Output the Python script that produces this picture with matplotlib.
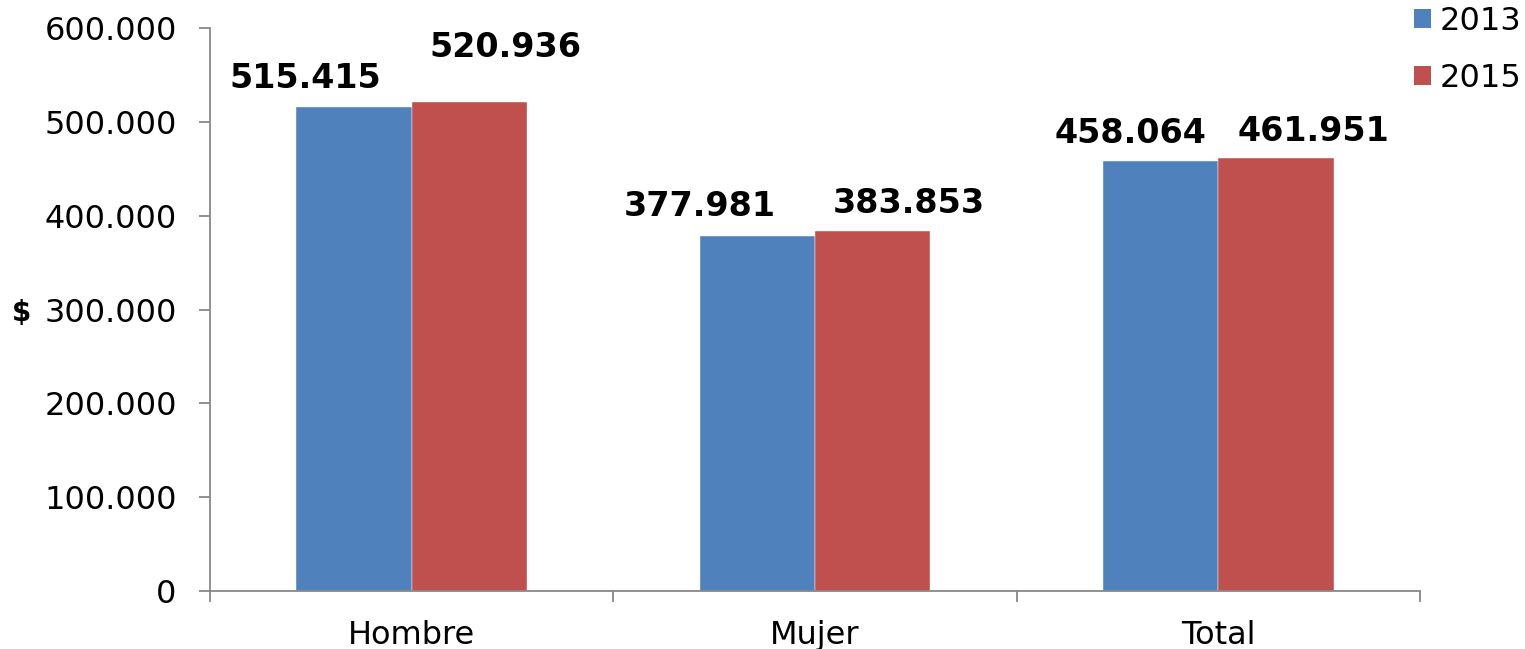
import matplotlib.pyplot as plt
import matplotlib
from matplotlib.patches import Patch
from matplotlib.ticker import FuncFormatter, FixedLocator
import numpy as np

matplotlib.rcParams["font.family"] = ["DejaVu Sans"]

categories = ["Hombre", "Mujer", "Total"]
years = ["2013", "2015"]
values_2013 = [515415, 377981, 458064]
values_2015 = [520936, 383853, 461951]

COLORS = {"2013": "#4F81BD", "2015": "#C0504D"}
# label offsets in pixels (dx, dy) relative to bar top centre
OFFSETS = {
    "2013": [(-49, 29), (-58, 30), (-30, 28)],
    "2015": [(36, 55), (36, 27), (37, 26)],
}


def fmt_thousands(v, pos=None):
    return f"{int(round(v)):,}".replace(",", ".")


def main():
    fig = plt.figure(figsize=(15.25, 6.49), dpi=100)
    ax = fig.add_axes([210 / 1525, 58 / 649, 1210 / 1525, 563 / 649])

    x = np.arange(len(categories))
    width = 0.286
    series = {"2013": values_2013, "2015": values_2015}
    for i, year in enumerate(years):
        pos = x + (i - 0.5) * width
        bars = ax.bar(pos, series[year], width=width, color=COLORS[year],
                      edgecolor="white", linewidth=0.3)
        for b, v, (dx, dy) in zip(bars, series[year], OFFSETS[year]):
            ax.annotate(fmt_thousands(v), (b.get_x() + b.get_width() / 2, v),
                        xytext=(dx, dy), textcoords="offset pixels",
                        ha="center", va="center", fontsize=24, fontweight="bold")

    ax.set_xlim(-0.5, len(categories) - 0.5)
    ax.set_ylim(0, 600000)
    ax.set_yticks(np.arange(0, 600001, 100000))
    ax.yaxis.set_major_formatter(FuncFormatter(fmt_thousands))

    ax.set_xticks(x)
    ax.set_xticklabels(categories)
    ax.xaxis.set_minor_locator(FixedLocator(np.arange(-0.5, len(categories), 1.0)))
    ax.tick_params(axis="x", which="major", length=0, pad=21, labelsize=23)
    ax.tick_params(axis="x", which="minor", length=8, width=1.3, color="#888888")
    ax.tick_params(axis="y", length=8, width=1.3, color="#888888", pad=16, labelsize=23)

    for s in ["top", "right"]:
        ax.spines[s].set_visible(False)
    for s in ["left", "bottom"]:
        ax.spines[s].set_color("#888888")
        ax.spines[s].set_linewidth(1.3)

    fig.text(22 / 1525, 1 - 313 / 649, "$", fontsize=20, fontweight="bold",
             ha="center", va="center")

    handles = [Patch(facecolor=COLORS[y], label=y) for y in years]
    fig.legend(handles=handles, loc="upper right", bbox_to_anchor=(1.012, 1.025),
               frameon=False, fontsize=23, handlelength=0.55, handleheight=0.55,
               handletextpad=0.25, labelspacing=0.8, borderaxespad=0.3)

    plt.savefig("out.png", dpi=100)
    plt.close()


if __name__ == "__main__":
    main()
